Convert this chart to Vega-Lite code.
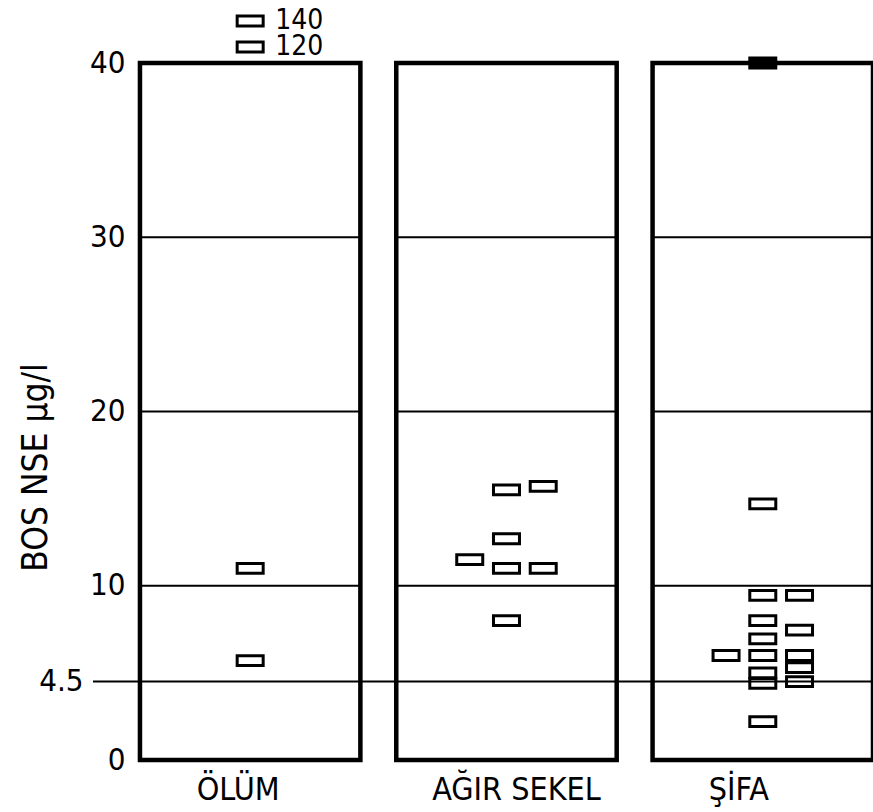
{
  "$schema": "https://vega.github.io/schema/vega-lite/v6.json",
  "width": 780,
  "height": 697,
  "autosize": {"type": "none"},
  "padding": {"left": 93, "top": 63, "right": 0, "bottom": 52},
  "background": "white",
  "config": {"view": {"stroke": null}, "font": "DejaVu Sans Condensed"},
  "resolve": {"scale": {"xOffset": "independent"}},
  "datasets": {
    "paneller": [
      {"grup": "ÖLÜM"},
      {"grup": "AĞIR SEKEL"},
      {"grup": "ŞİFA"}
    ],
    "olcumler": [
      {"grup": "ÖLÜM", "sutun": 0, "deger": 140},
      {"grup": "ÖLÜM", "sutun": 0, "deger": 120},
      {"grup": "ÖLÜM", "sutun": 0, "deger": 11.0},
      {"grup": "ÖLÜM", "sutun": 0, "deger": 5.7},
      {"grup": "AĞIR SEKEL", "sutun": 0, "deger": 15.5},
      {"grup": "AĞIR SEKEL", "sutun": 2, "deger": 15.7},
      {"grup": "AĞIR SEKEL", "sutun": 0, "deger": 12.7},
      {"grup": "AĞIR SEKEL", "sutun": -2, "deger": 11.5},
      {"grup": "AĞIR SEKEL", "sutun": 0, "deger": 11.0},
      {"grup": "AĞIR SEKEL", "sutun": 2, "deger": 11.0},
      {"grup": "AĞIR SEKEL", "sutun": 0, "deger": 8.0},
      {"grup": "ŞİFA", "sutun": 0, "deger": 40},
      {"grup": "ŞİFA", "sutun": 0, "deger": 14.7},
      {"grup": "ŞİFA", "sutun": 0, "deger": 9.45},
      {"grup": "ŞİFA", "sutun": 2, "deger": 9.45},
      {"grup": "ŞİFA", "sutun": 0, "deger": 8.0},
      {"grup": "ŞİFA", "sutun": 2, "deger": 7.45},
      {"grup": "ŞİFA", "sutun": 0, "deger": 6.95},
      {"grup": "ŞİFA", "sutun": -2, "deger": 6.0},
      {"grup": "ŞİFA", "sutun": 0, "deger": 6.0},
      {"grup": "ŞİFA", "sutun": 2, "deger": 6.0},
      {"grup": "ŞİFA", "sutun": 2, "deger": 5.3},
      {"grup": "ŞİFA", "sutun": 0, "deger": 5.0},
      {"grup": "ŞİFA", "sutun": 2, "deger": 4.5},
      {"grup": "ŞİFA", "sutun": 0, "deger": 4.4},
      {"grup": "ŞİFA", "sutun": 0, "deger": 2.2}
    ]
  },
  "layer": [
    {
      "data": {"name": "paneller"},
      "mark": {"type": "rect", "fill": "transparent", "stroke": "black", "strokeWidth": 4.5},
      "encoding": {
        "x": {
          "field": "grup", "type": "nominal",
          "sort": ["ÖLÜM", "AĞIR SEKEL", "ŞİFA"],
          "scale": {"domain": ["ÖLÜM", "AĞIR SEKEL", "ŞİFA"], "paddingInner": 0.14, "paddingOuter": 0.0916, "align": 1},
          "axis": {
            "title": null, "orient": "bottom", "domain": false, "ticks": false, "grid": false,
            "labelAngle": 0, "labelFontSize": 32, "labelColor": "black",
            "labelPadding": 14, "labelBaseline": "top",
            "labelOffset": {"condition": [
              {"test": "datum.value == 'ÖLÜM'", "value": -12},
              {"test": "datum.value == 'ŞİFA'", "value": -24}
            ], "value": 10}
          }
        },
        "y": {
          "datum": 0, "type": "quantitative",
          "scale": {"type": "linear", "domain": [0, 40, 120, 140], "range": [697, 0, -16, -42], "nice": false, "zero": false},
          "axis": {
            "title": "BOS NSE µg/l", "values": [0, 4.5, 10, 20, 30, 40], "format": "~g",
            "domain": false, "ticks": false, "grid": false,
            "labelFontSize": 31, "labelColor": "black", "labelOverlap": false,
            "labelFlush": false, "labelBaseline": "middle", "labelAlign": "right",
            "labelPadding": {"condition": {"test": "datum.value == 4.5", "value": 10}, "value": -32},
            "titleFontSize": 35, "titleFontWeight": "normal", "titleColor": "black",
            "titleAngle": -90, "titleX": -47, "titleY": 404,
            "titleAlign": "center", "titleBaseline": "alphabetic"
          }
        },
        "y2": {"datum": 40}
      }
    },
    {
      "data": {"values": [{}]},
      "mark": {"type": "rule", "stroke": "black", "strokeWidth": 2},
      "encoding": {
        "y": {"datum": 4.5, "type": "quantitative"}
      }
    },
    {
      "data": {"name": "paneller"},
      "mark": {"type": "rect", "fill": "transparent", "stroke": "black", "strokeWidth": 2},
      "encoding": {
        "x": {"field": "grup", "type": "nominal"},
        "y": {"datum": 10, "type": "quantitative"},
        "y2": {"datum": 10}
      }
    },
    {
      "data": {"name": "paneller"},
      "mark": {"type": "rect", "fill": "transparent", "stroke": "black", "strokeWidth": 2},
      "encoding": {
        "x": {"field": "grup", "type": "nominal"},
        "y": {"datum": 20, "type": "quantitative"},
        "y2": {"datum": 20}
      }
    },
    {
      "data": {"name": "paneller"},
      "mark": {"type": "rect", "fill": "transparent", "stroke": "black", "strokeWidth": 2},
      "encoding": {
        "x": {"field": "grup", "type": "nominal"},
        "y": {"datum": 30, "type": "quantitative"},
        "y2": {"datum": 30}
      }
    },
    {
      "data": {"name": "olcumler"},
      "mark": {"type": "point", "shape": "M-1,-0.38H1V0.38H-1Z", "size": 676, "strokeWidth": 3, "stroke": "black", "filled": true, "opacity": 1},
      "encoding": {
        "x": {"field": "grup", "type": "nominal"},
        "xOffset": {"field": "sutun", "type": "ordinal", "scale": {"domain": [-6, -5, -4, -3, -2, -1, 0, 1, 2, 3, 4, 5, 6], "paddingInner": 0, "paddingOuter": 0}},
        "y": {"field": "deger", "type": "quantitative"},
        "fill": {"condition": {"test": "datum.deger == 40", "value": "black"}, "value": "transparent"}
      }
    },
    {
      "data": {"name": "olcumler"},
      "transform": [{"filter": "datum.deger > 40"}],
      "mark": {"type": "text", "align": "left", "baseline": "middle", "dx": 25, "fontSize": 28, "color": "black"},
      "encoding": {
        "x": {"field": "grup", "type": "nominal"},
        "xOffset": {"field": "sutun", "type": "ordinal", "scale": {"domain": [-6, -5, -4, -3, -2, -1, 0, 1, 2, 3, 4, 5, 6], "paddingInner": 0, "paddingOuter": 0}},
        "y": {"field": "deger", "type": "quantitative"},
        "text": {"field": "deger", "type": "quantitative"}
      }
    }
  ]
}
